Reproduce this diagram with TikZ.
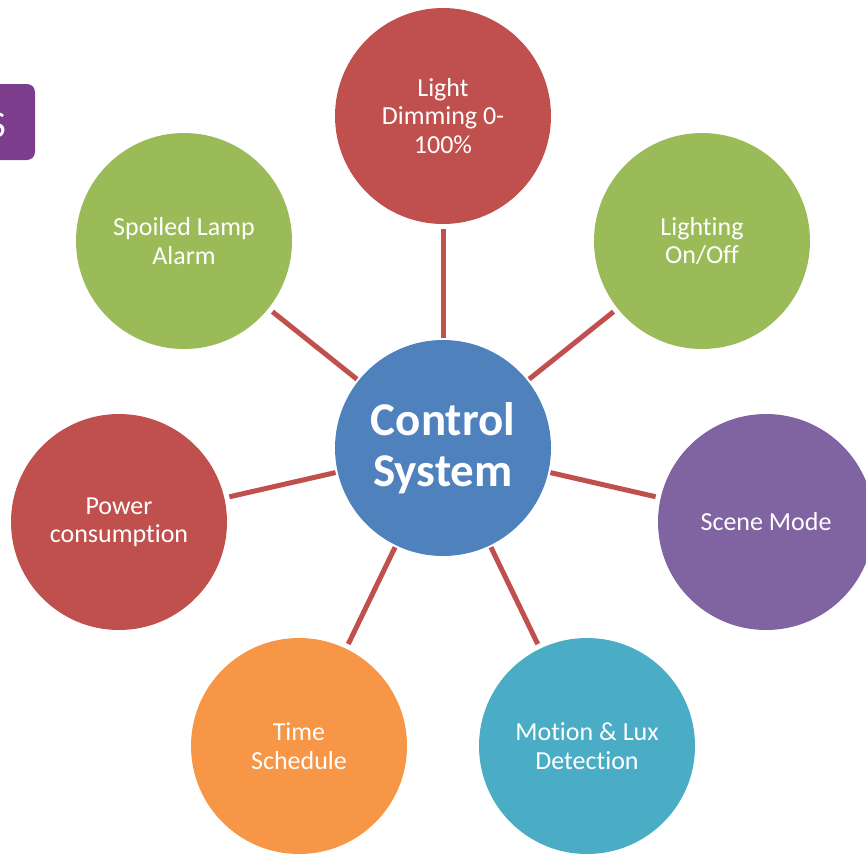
\documentclass[tikz,border=0pt]{standalone}
\usepackage{fontspec}
\setmainfont{Carlito}[Ligatures=NoCommon]
\definecolor{ored}{HTML}{C0504D}
\definecolor{ogreen}{HTML}{9BBB59}
\definecolor{oblue}{HTML}{4F81BD}
\definecolor{opurple}{HTML}{8064A2}
\definecolor{oaqua}{HTML}{4BACC6}
\definecolor{oorange}{HTML}{F79646}
\definecolor{boxpurple}{RGB}{124,62,140}
\tikzset{
  bubble/.style={circle, minimum size=216pt, inner sep=0pt, text=white, align=center,
    font=\fontsize{26}{28.5}\selectfont},
  hub/.style={circle, minimum size=216pt, inner sep=0pt, text=white, align=center, fill=oblue,
    font=\fontsize{47}{51}\selectfont\bfseries},
  conn/.style={draw=ored, line width=5pt, shorten <=2pt, shorten >=5pt}
}
\begin{document}
\begin{tikzpicture}[x=1pt,y=-1pt]
\useasboundingbox (0,0) rectangle (866,854);
\begin{scope}
\clip (0,0) rectangle (866,854);
\fill[boxpurple, rounded corners=8pt] (-20,84) rectangle (35,160);
\node[anchor=east, text=white, inner sep=0pt, font=\fontsize{38}{40}\selectfont] (frag) at (6,125) {S};
\node[hub] (c) at (443,448) {Control\\System};
\node[bubble, fill=ored] (dim) at (443,116) {Light\\Dimming 0-\\100\%};
\node[bubble, fill=ogreen] (onoff) at (702,241) {Lighting\\On/Off};
\node[bubble, fill=opurple] (scene) at (766,522) {Scene Mode};
\node[bubble, fill=oaqua] (motion) at (587,746) {Motion \& Lux\\Detection};
\node[bubble, fill=oorange] (time) at (299,746) {Time\\Schedule};
\node[bubble, fill=ored] (power) at (119,522) {Power\\consumption};
\node[bubble, fill=ogreen] (spoil) at (184,241) {Spoiled Lamp\\Alarm};
\foreach \n in {dim,onoff,scene,motion,time,power,spoil}
  \draw[conn] (c) -- (\n);
\end{scope}
\end{tikzpicture}
\end{document}
